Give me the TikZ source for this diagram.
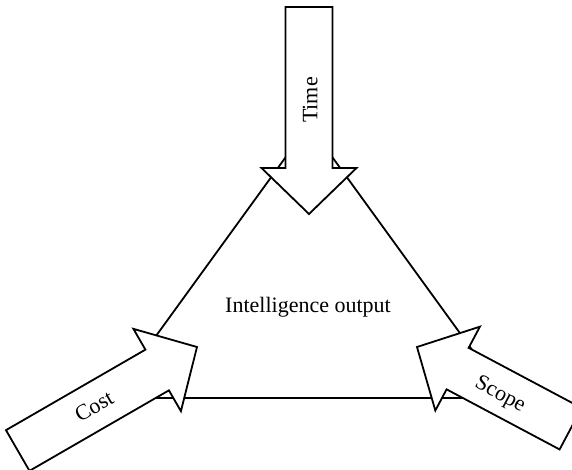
\documentclass[tikz,border=0pt]{standalone}
\usepackage{fontspec}
\setmainfont{Liberation Serif}
\begin{document}
\begin{tikzpicture}[x=1pt,y=-1pt,line width=1.8pt,line join=miter,
  arrowline/.style={draw=black,fill=white},
  lbl/.style={font=\fontsize{22}{26}\selectfont,inner sep=0pt,
    text height=14.5pt,text depth=0pt,anchor=center},
  pics/fatarrow/.style={code={
    % block arrow with its tip at the origin, pointing along +x
    \draw[arrowline] (0,0) -- (-46,47.5) -- (-46,23.5) -- (-46-#1,23.5)
      -- (-46-#1,-23.5) -- (-46,-23.5) -- (-46,-47.5) -- cycle;
  }}]
\useasboundingbox (0,0) rectangle (572,470);
\clip (0,0) rectangle (572,470);

% the triangle, corners hidden under the arrows
\coordinate (apex) at (309,125);
\coordinate (bl) at (111,398);
\coordinate (br) at (507,398);
\draw (apex) -- (bl) -- (br) -- cycle;

% the three constraint arrows
\pic[rotate=-90] at (309,214) {fatarrow=161};
\pic[rotate=30] at (197,347) {fatarrow=161};
\pic[rotate=152] at (417,347) {fatarrow=128};

% labels
\node[lbl] (out) at (308,305) {Intelligence output};
\node[lbl,rotate=90] (time) at (310,100) {Time};
\node[lbl,rotate=30] (cost) at (94,406) {Cost};
\node[lbl,rotate=-28] (scope) at (501,393) {Scope};
\end{tikzpicture}
\end{document}
